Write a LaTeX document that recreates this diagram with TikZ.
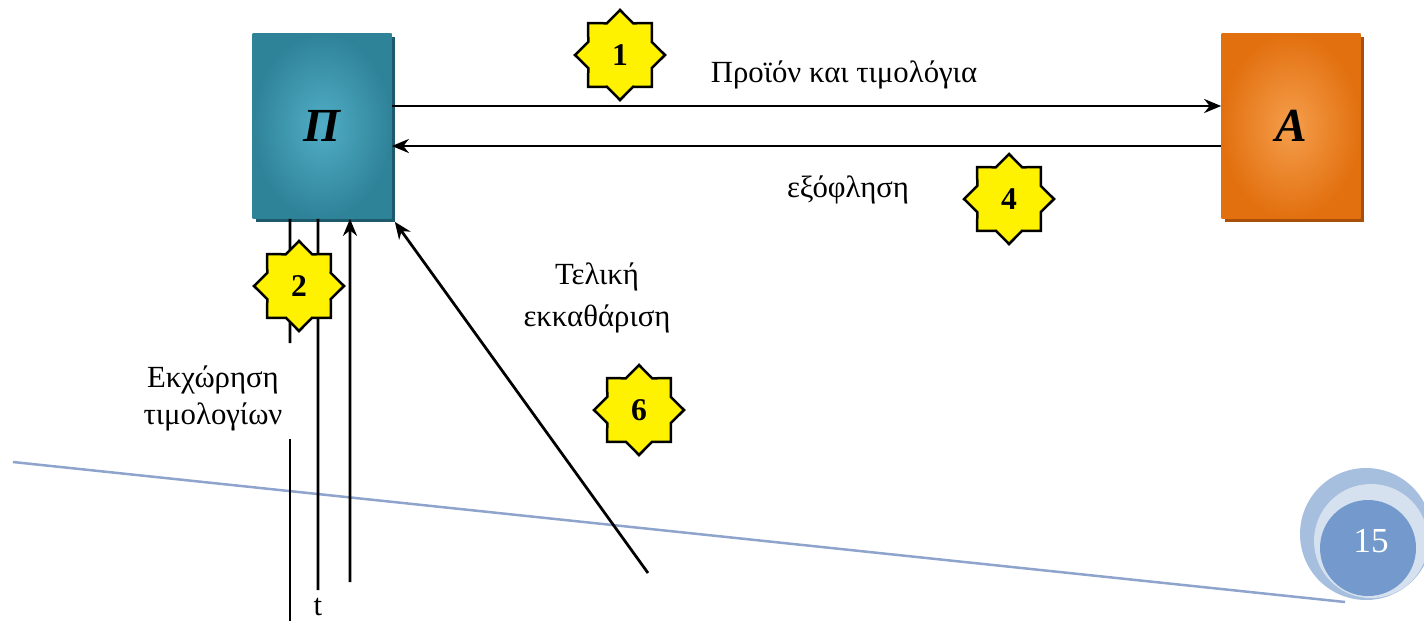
\documentclass[tikz,border=0pt]{standalone}
\usepackage{fontspec}
\setmainfont{Liberation Serif}
\usepackage{xcolor}
\usetikzlibrary{arrows.meta,shapes.geometric,shadows}

\definecolor{tealedge}{HTML}{2F8399}
\definecolor{tealmid}{HTML}{50ADC6}
\definecolor{tealshadow}{HTML}{1E5A6C}
\definecolor{orangeedge}{HTML}{E2700F}
\definecolor{orangemid}{HTML}{F59E4C}
\definecolor{orangeshadow}{HTML}{A84F0A}
\definecolor{slideline}{HTML}{8EA4CC}
\definecolor{ringouter}{HTML}{A7BFDF}
\definecolor{ringmid}{HTML}{D6E1EF}
\definecolor{ringinner}{HTML}{7399CD}

\begin{document}
\begin{tikzpicture}[
    x=0.2mm, y=-0.2mm,
    every node/.style={font=\fontsize{17.5}{21}\selectfont},
    party/.style={rectangle,minimum width=27.8mm,minimum height=37mm,
      font=\fontsize{27}{30}\selectfont\bfseries\itshape},
    flow/.style={line width=0.55mm,-{Stealth[length=3.4mm,width=2.8mm]}},
    plain/.style={line width=0.55mm},
    badge/.style={star,star points=8,star point ratio=1.31,draw=black,
      line width=0.5mm,fill=yellow,minimum size=18mm,inner sep=0pt,
      font=\fontsize{18}{20}\selectfont\bfseries},
    lbl/.style={align=center},
  ]
  \useasboundingbox (0,0) rectangle (1424,621);

  % slide decoration
  \coordinate (lstart) at (13,462);
  \coordinate (lend) at (1345,602);
  \draw[slideline,line width=0.5mm] (lstart) -- (lend);
  \fill[ringouter] (1366,534) circle (66);
  \fill[ringmid]   (1371,541) circle (57);
  \fill[ringinner] (1368,548) circle (48);
  \node[white,font=\fontsize{20}{22}\selectfont] (page) at (1371,541) {15};

  % the two parties
  \node[party,shade,inner color=tealmid,outer color=tealedge,
    drop shadow={shadow xshift=0.6mm,shadow yshift=-0.6mm,fill=tealshadow,opacity=1}]
    (P) at (322,126) {Π};
  \node[party,shade,inner color=orangemid,outer color=orangeedge,
    drop shadow={shadow xshift=0.6mm,shadow yshift=-0.6mm,fill=orangeshadow,opacity=1}]
    (A) at (1291,126) {A};

  % flows between P and A
  \draw[flow] ([yshift=4mm]P.east) -- ([yshift=4mm]A.west);
  \draw[flow] ([yshift=-4mm]A.west) -- ([yshift=-4mm]P.east);

  % flows below P
  \coordinate (cut1) at (290,343);
  \coordinate (cut2) at (290,439);
  \coordinate (bot1) at (290,621);
  \coordinate (bot2) at (318,590);
  \coordinate (bot3) at (350,582);
  \coordinate (diag) at (648,573);
  \draw[plain] ([xshift=-6.4mm]P.south) -- (cut1);
  \draw[plain] (cut2) -- (bot1);
  \draw[plain] ([xshift=-0.8mm]P.south) -- (bot2);
  \draw[flow] (bot3) -- ([xshift=5.6mm]P.south);
  \draw[flow] (diag) -- ([xshift=0.6mm,yshift=-0.6mm]P.south east);

  % step numbers
  \foreach \n/\x/\y in {1/620/55, 4/1009/199, 2/299/286, 6/639/410}
    \node[badge] (s\n) at (\x,\y) {\n};

  % labels
  \node[lbl,anchor=base] (prodlbl) at (844,82) {Προϊόν και τιμολόγια};
  \node[lbl,anchor=base] (paylbl) at (848,197) {εξόφληση};
  \node[lbl,font=\fontsize{17.5}{24}\selectfont] (clearlbl) at (597,298) {Τελική\\εκκαθάριση};
  \node[lbl,font=\fontsize{17.5}{21}\selectfont] (assignlbl) at (213,398) {Εκχώρηση\\τιμολογίων};
  \node (tlbl) at (318,607) {t};
\end{tikzpicture}
\end{document}
